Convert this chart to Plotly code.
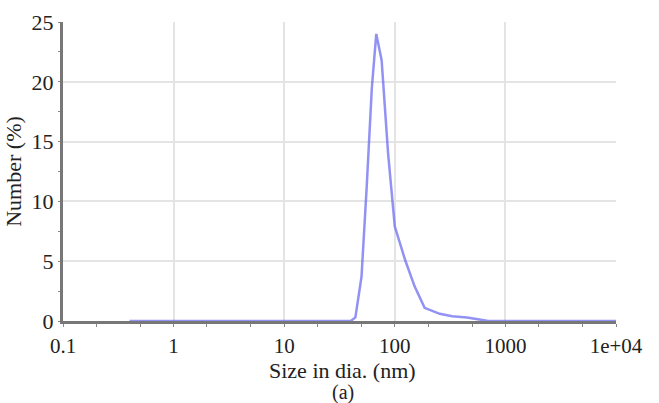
import plotly.graph_objects as go

size_nm = [0.4, 1, 10, 40, 44, 50, 55.7, 62, 68, 76, 87, 100, 124, 151, 186, 255, 330, 450, 600, 700, 1000, 10000]
number_pct = [0, 0, 0, 0, 0.3, 3.7, 11.2, 19.5, 24.0, 21.8, 14.0, 7.9, 5.1, 2.9, 1.1, 0.6, 0.4, 0.3, 0.1, 0, 0, 0]

x_tickvals = [0.1, 1, 10, 100, 1000, 10000]
x_ticktext = ["0.1", "1", "10", "100", "1000", "1e+04"]
y_tickvals = [0, 5, 10, 15, 20, 25]

font_family = "Liberation Serif, Times New Roman, serif"

plot_left, plot_right, plot_top, plot_bottom = 63, 616, 22, 321

fig = go.Figure()
fig.add_trace(go.Scatter(
    x=size_nm, y=number_pct, mode="lines",
    line=dict(color="rgba(110,110,240,0.75)", width=2.5),
    showlegend=False,
))

fig.update_layout(
    width=659, height=403,
    margin=dict(l=plot_left, r=659 - plot_right, t=plot_top, b=403 - plot_bottom),
    paper_bgcolor="white", plot_bgcolor="white",
    font=dict(family=font_family, size=22, color="#222"),
    xaxis=dict(
        type="log", range=[-1, 4], automargin=False,
        tickvals=x_tickvals, ticktext=x_ticktext,
        showgrid=True, gridcolor="#e4e4e4", gridwidth=2,
        showline=True, linecolor="#777", linewidth=3,
        ticks="", zeroline=False, ticklabelstandoff=4,
        minor=dict(ticks="outside", ticklen=3, tickcolor="#888", showgrid=False),
        tickfont=dict(size=21),
    ),
    yaxis=dict(
        range=[0, 25], tickvals=y_tickvals, automargin=False,
        showgrid=True, gridcolor="#e4e4e4", gridwidth=2,
        showline=True, linecolor="#777", linewidth=3,
        ticks="outside", ticklen=2, tickcolor="#888",
        zeroline=False, ticklabelstandoff=0,
        minor=dict(ticks="outside", ticklen=2, tickcolor="#888", dtick=2.5, showgrid=False),
        title=dict(text="Number (%)", font=dict(size=22), standoff=4),
        tickfont=dict(size=22),
    ),
)

def py(pixel_y):
    return (plot_bottom - pixel_y) / (plot_bottom - plot_top)

def px(pixel_x):
    return (pixel_x - plot_left) / (plot_right - plot_left)

fig.add_annotation(text="Size in dia. (nm)", x=px(342), y=py(371), xref="paper", yref="paper",
                   showarrow=False, font=dict(size=22), yanchor="middle")
fig.add_annotation(text="(a)", x=px(343), y=py(392), xref="paper", yref="paper",
                   showarrow=False, font=dict(size=20), yanchor="middle")

fig.write_html("out.html", config={"displayModeBar": False},
               post_script="document.body.style.margin='0';document.body.style.padding='0';")
